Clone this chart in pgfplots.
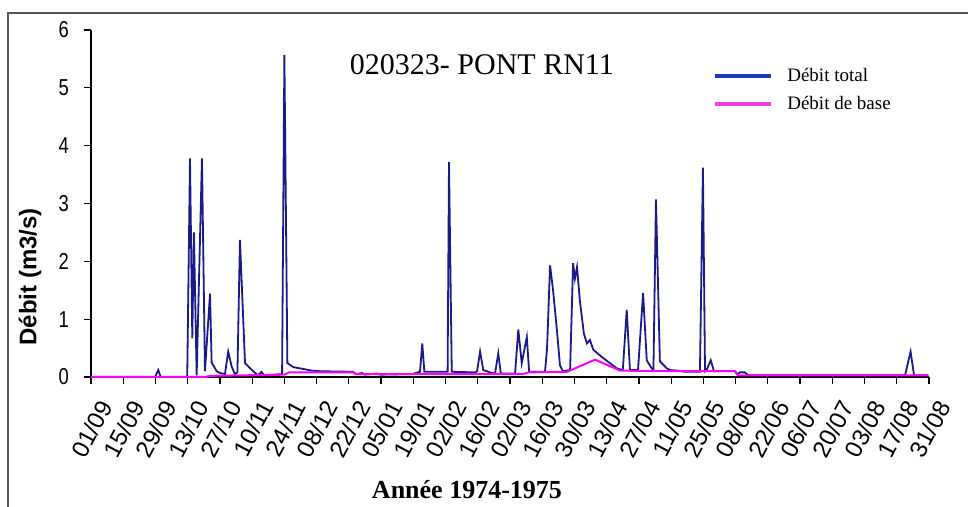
\documentclass[border=0pt]{standalone}
\usepackage{fontspec}
\setmainfont{Liberation Sans}
\newfontfamily\seriffont{Liberation Serif}
\newfontfamily\narrowfont[FakeStretch=0.8]{Liberation Sans}
\usepackage{pgfplots}
\usepackage{pgfplotstable}
\pgfplotsset{compat=1.18}
\definecolor{qnavy}{HTML}{1A1A8A}
\definecolor{qmag}{HTML}{FF00FF}
\definecolor{legblue}{HTML}{1E3AB8}
\definecolor{legmag}{HTML}{F23FE6}
\definecolor{framegray}{HTML}{555555}

% daily flow (day 0 = 01/09/1974)
\pgfplotstableread{
day q
0 0
27.8 0
29.2 0.12
30.3 0
41.8 0
43.0 3.78
44.0 0.67
44.7 2.50
45.9 0.03
48.2 3.78
49.5 0.10
51.7 1.44
52.4 0.25
54.6 0.10
56.0 0.07
58.2 0.05
59.6 0.44
61.1 0.18
62.5 0.05
63.6 0.08
64.7 2.37
66.9 0.24
69.1 0.15
71.3 0.07
72.5 0.03
74.1 0.09
75.1 0.03
83.0 0.05
84.0 5.57
85.3 0.24
87.9 0.17
92.1 0.14
95.9 0.11
99.5 0.10
113.8 0.09
115.1 0.05
117.7 0.07
119.0 0.04
124.2 0.06
125.5 0.04
139.4 0.05
142.9 0.09
143.9 0.58
144.8 0.09
154.9 0.09
155.5 3.72
156.7 0.09
166.8 0.08
167.7 0.10
169.0 0.44
170.4 0.12
173.3 0.08
175.5 0.06
176.9 0.41
178.0 0.06
184.2 0.06
185.6 0.82
187.1 0.24
189.3 0.69
190.3 0.09
197.2 0.09
198.1 0.50
199.4 1.93
200.7 1.50
202.4 0.80
203.7 0.20
205.0 0.10
208.1 0.12
209.4 1.97
210.2 1.70
211.1 1.90
212.4 1.30
214.1 0.75
215.4 0.58
216.7 0.64
218.2 0.47
221.8 0.35
224.7 0.26
228.4 0.15
231.0 0.12
232.7 1.16
234.1 0.12
237.6 0.12
239.8 1.45
241.4 0.29
243.5 0.15
244.3 0.12
245.4 3.07
247.1 0.27
250.1 0.15
251.5 0.12
255.1 0.11
258.0 0.09
264.5 0.09
265.8 3.62
266.7 0.10
267.4 0.12
269.2 0.29
270.6 0.10
279.7 0.10
280.6 0.05
281.9 0.08
284.1 0.08
285.4 0.03
353.6 0.03
356.0 0.44
357.5 0.03
363.7 0.03
}\totaltab

\pgfplotstableread{
day q
0 0
49.5 0
52.0 0.02
84.0 0.04
86.0 0.08
113.8 0.08
115.0 0.05
187.6 0.05
190.0 0.08
206.8 0.09
219.0 0.30
229.8 0.11
251.5 0.10
279.7 0.10
281.0 0.03
355.8 0.03
363.7 0.03
}\basetab

\begin{document}
\begin{tikzpicture}
\begin{axis}[
    scale only axis,
    width=419pt, height=173.5pt,
    xmin=0, xmax=364, ymin=0, ymax=6,
    clip=false,
    axis x line*=bottom, axis y line*=left,
    axis line style={-, black, line width=0.8pt},
    tick align=outside,
    major tick length=3.5pt,
    tick style={black, line width=0.6pt},
    xtick={0,14,...,364},
    xticklabels={01/09,15/09,29/09,13/10,27/10,10/11,24/11,08/12,22/12,05/01,19/01,02/02,16/02,02/03,16/03,30/03,13/04,27/04,11/05,25/05,08/06,22/06,06/07,20/07,03/08,17/08,31/08},
    xticklabel style={xshift=3.5pt, yshift=-7pt, rotate=62, anchor=north east,
        inner sep=0pt, font=\fontsize{12}{14}\selectfont},
    ytick={0,1,...,6},
    yticklabel style={font=\narrowfont\fontsize{11.5}{13}\selectfont, xshift=-4pt},
    /pgf/number format/assume math mode=true,
    legend style={at={(0.735,0.915)}, anchor=north west, draw=none, fill=none,
        font=\seriffont\fontsize{9.5}{11}\selectfont, row sep=2pt},
    legend cell align=left,
]
\addplot[qnavy, line width=0.9pt,
    legend image code/.code={\draw[legblue, line width=2pt] (0pt,0pt) -- (28pt,0pt); \path[draw=none, fill=none] (0pt,0pt) -- (34pt,0pt);}]
    table[x=day, y=q] {\totaltab};
\addlegendentry{Débit total}
\addplot[qmag, line width=1pt,
    legend image code/.code={\draw[legmag, line width=2pt] (0pt,0pt) -- (28pt,0pt); \path[draw=none, fill=none] (0pt,0pt) -- (34pt,0pt);}]
    table[x=day, y=q] {\basetab};
\addlegendentry{Débit de base}

\node[font=\seriffont\fontsize{15}{17}\selectfont] at (axis cs:169.8,5.40) {020323- PONT RN11};
\node[rotate=90, font=\bfseries\fontsize{12}{14}\selectfont] at (axis cs:-26.5,1.73) {Débit (m3/s)};
\node[font=\seriffont\bfseries\fontsize{13}{15}\selectfont] at (axis cs:163.3,-1.955) {Année 1974-1975};
\end{axis}
\pgfresetboundingbox
\path[use as bounding box] (-45.5pt,-65pt) rectangle (438.5pt,188.5pt);
\draw[framegray, line width=1pt] (-41.5pt,-66pt) -- (-41.5pt,182pt) -- (439pt,182pt);
\end{tikzpicture}
\end{document}
